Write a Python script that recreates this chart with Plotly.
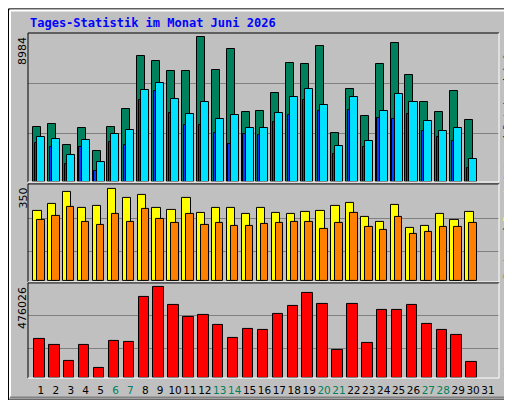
import plotly.graph_objects as go

days = list(range(1, 32))
weekend_days = [6, 7, 13, 14, 20, 21, 27, 28]

anfragen = [3435, 3618, 2277, 3313, 1911, 3435, 4533, 7826, 7521, 6850, 6850, 8984, 6911, 8252, 4350,
            4411, 5508, 7399, 7277, 8435, 3008, 5752, 4106, 7277, 8618, 6606, 4960, 4350, 5630, 3862, None]
dateien = [2764, 2642, 1667, 2581, 1240, 2947, 3191, 5691, 6118, 5142, 4228, 4960, 3923, 4167, 3374,
           3313, 4289, 5264, 5752, 4777, 2216, 5264, 2520, 4411, 5447, 4960, 3801, 3130, 3374, 1423, None]
seiten = [2398, 2155, 1118, 2155, 691, 2459, 2277, 5081, 5630, 4289, 3557, 3557, 3008, 2337, 2947,
          2886, 3740, 4167, 5081, 4411, 1728, 4472, 2155, 3984, 3923, 4228, 3130, 2764, 2520, 874, None]
besuche = [266, 293, 339, 278, 285, 350, 316, 327, 278, 270, 316, 259, 278, 278, 255,
           278, 259, 255, 262, 266, 285, 297, 243, 224, 289, 202, 209, 255, 232, 262, None]
rechner = [232, 247, 281, 224, 213, 255, 224, 274, 236, 221, 255, 213, 221, 209, 209,
           217, 221, 224, 224, 198, 221, 259, 205, 194, 243, 179, 186, 205, 205, 221, None]
kb = [205000, 173700, 90300, 173700, 53900, 194600, 189400, 423900, 476026, 382200, 319700, 330100,
      278000, 210200, 257100, 251900, 335300, 377000, 444800, 387400, 147700, 387400, 184200, 356200,
      356200, 382200, 283200, 251900, 225900, 85100, None]

max_req, max_visits, max_kb = 8984, 350, 476026

C_HITS, C_FILES, C_PAGES = "#00805c", "#00e0ff", "#0040ff"
C_VIS, C_SITES, C_KB = "#ffff00", "#ff8000", "#ff0000"

fig = go.Figure()
ol = dict(color="black", width=1)
fig.add_bar(x=days, y=anfragen, offset=-0.54, width=0.54, marker=dict(color=C_HITS, line=ol), xaxis="x", yaxis="y")
fig.add_bar(x=days, y=seiten, offset=-0.42, width=0.15, marker=dict(color=C_PAGES, line=ol), xaxis="x", yaxis="y")
fig.add_bar(x=days, y=dateien, offset=-0.27, width=0.54, marker=dict(color=C_FILES, line=ol), xaxis="x", yaxis="y")
fig.add_bar(x=days, y=besuche, offset=-0.52, width=0.56, marker=dict(color=C_VIS, line=ol), xaxis="x2", yaxis="y2")
fig.add_bar(x=days, y=rechner, offset=-0.25, width=0.50, marker=dict(color=C_SITES, line=ol), xaxis="x2", yaxis="y2")
fig.add_bar(x=days, y=kb, offset=-0.45, width=0.70, marker=dict(color=C_KB, line=ol), xaxis="x3", yaxis="y3")

ticktext = [f'<span style="color:#00805c">{d}</span>' if d in weekend_days else str(d) for d in days]

W, H, L, T = 512, 400, 20, 25
PW, PH = 471, 352
def px(x): return (x - L) / PW
def py(y): return (T + PH - y) / PH

xr = [0.13, 31.74]
common_x = dict(range=xr, showgrid=False, zeroline=False, showline=False, fixedrange=True)
grid = dict(showgrid=True, gridcolor="#808080", gridwidth=1, zeroline=False, showticklabels=False, ticks="")
fig.update_layout(
    width=W, height=H, margin=dict(l=L, r=W - L - PW, t=T, b=H - T - PH, pad=0),
    paper_bgcolor="#c0c0c0", plot_bgcolor="#c0c0c0", showlegend=False, barmode="overlay", bargap=0,
    font=dict(family="DejaVu Sans", size=11, color="black"),
    xaxis=dict(**common_x, domain=[0, 1], anchor="y", showticklabels=False),
    xaxis2=dict(**common_x, domain=[0, 1], anchor="y2", showticklabels=False),
    xaxis3=dict(**common_x, domain=[0, 1], anchor="y3", tickmode="array", tickvals=days, ticktext=ticktext,
                ticks="", tickangle=0, ticklabelstandoff=4, tickfont=dict(size=10.5, family="DejaVu Sans")),
    yaxis=dict(**grid, domain=[py(177), 1], range=[0, max_req * 151.5 / 147.5], tickvals=[max_req * 0.336, max_req * 0.678]),
    yaxis2=dict(**grid, domain=[py(278), py(180)], range=[0, max_visits * 96.3 / 92], tickvals=[max_visits * 0.326, max_visits * 0.685]),
    yaxis3=dict(**grid, domain=[0, py(280)], range=[0, max_kb * 95.4 / 91.4], tickvals=[max_kb * 0.322, max_kb * 0.683]),
)

shapes = []
shapes.append(dict(type="rect", xref="paper", yref="paper", x0=px(0.5), x1=px(511.5), y0=py(399.5), y1=py(0.5), line=dict(color="black", width=1)))
shapes.append(dict(type="line", xref="paper", yref="paper", x0=px(2), x1=px(509), y0=py(2), y1=py(2), line=dict(color="white", width=2)))
shapes.append(dict(type="line", xref="paper", yref="paper", x0=px(2), x1=px(2), y0=py(2), y1=py(397), line=dict(color="white", width=2)))
shapes.append(dict(type="line", xref="paper", yref="paper", x0=px(2), x1=px(509), y0=py(397), y1=py(397), line=dict(color="#808080", width=2)))
shapes.append(dict(type="line", xref="paper", yref="paper", x0=px(509), x1=px(509), y0=py(2), y1=py(397), line=dict(color="#808080", width=2)))
for top, bot in [(25, 177), (179, 279), (280, 377)]:
    shapes.append(dict(type="line", xref="paper", yref="paper", x0=px(20), x1=px(491), y0=py(top), y1=py(top), line=dict(color="black", width=1)))
    shapes.append(dict(type="line", xref="paper", yref="paper", x0=px(20), x1=px(20), y0=py(top), y1=py(bot), line=dict(color="black", width=1)))
    shapes.append(dict(type="line", xref="paper", yref="paper", x0=px(20), x1=px(491), y0=py(bot), y1=py(bot), line=dict(color="white", width=1)))
    shapes.append(dict(type="line", xref="paper", yref="paper", x0=px(491), x1=px(491), y0=py(top), y1=py(bot), line=dict(color="white", width=1)))
fig.update_layout(shapes=shapes)

mono = "DejaVu Sans Mono"
ann = []
ann.append(dict(text="<b>Tages-Statistik im Monat Juni 2026</b>", x=px(20), y=py(15), xref="paper", yref="paper",
                xanchor="left", yanchor="middle", showarrow=False, font=dict(family=mono, size=12, color="#0000ff")))
for label, ytop in [(f"{max_req}", 27), (f"{max_visits}", 181), (f"{max_kb}", 282)]:
    ann.append(dict(text=label, textangle=-90, x=px(15), y=py(ytop), xref="paper", yref="paper",
                    xanchor="center", yanchor="top", showarrow=False, font=dict(family="DejaVu Sans", size=11)))
right = [
    ('<span style="color:#00e0ff">Seiten</span> / <span style="color:#0000ff">Dateien</span> / <span style="color:#00805c">Anfragen</span>', 178),
    ('<span style="color:#ff8000">Rechner</span> / <span style="color:#ffff00">Besuche</span>', 278),
    ('<span style="color:#ff0000">kb</span>', 377),
]
for txt, ybot in right:
    ann.append(dict(text=txt, textangle=-90, x=px(499), y=py(ybot), xref="paper", yref="paper",
                    xanchor="center", yanchor="bottom", showarrow=False, font=dict(family=mono, size=9.5, color="black")))
fig.update_layout(annotations=ann)

fig.write_html("out.html", config={"displayModeBar": False})
